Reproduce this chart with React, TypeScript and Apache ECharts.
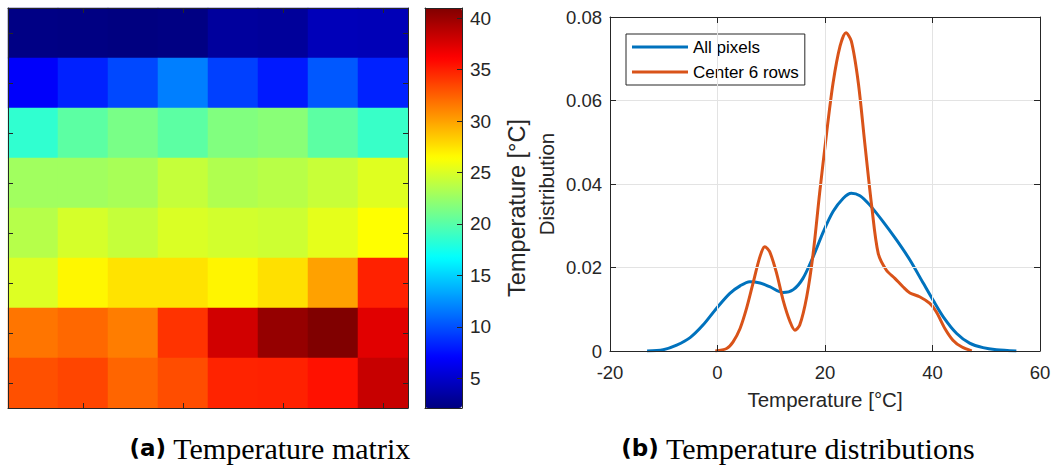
import React, { useEffect, useRef } from "react";
import * as echarts from "echarts";

// ---------- data ----------
const columnLabels = ["1", "2", "3", "4", "5", "6", "7", "8"];
const rowLabels = ["1", "2", "3", "4", "5", "6", "7", "8"];

// temperature matrix, top row first (°C)
const row1 = [2.3, 2.2, 2.1, 2.2, 3.2, 3.1, 4.3, 4.2];
const row2 = [6.8, 8.2, 9.7, 11.8, 9.4, 7.9, 10.3, 8.2];
const row3 = [18.5, 20.2, 21.3, 20.2, 21.6, 21.9, 20.2, 18.8];
const row4 = [22.8, 22.8, 23.1, 24.2, 23.4, 23.7, 24.3, 25.2];
const row5 = [23.6, 24.8, 24.2, 25.0, 24.7, 24.5, 25.4, 26.4];
const row6 = [25.1, 26.7, 27.5, 27.5, 26.8, 27.6, 30.0, 34.9];
const row7 = [31.7, 32.2, 31.4, 34.2, 37.9, 40.2, 41.0, 37.3];
const row8 = [33.1, 33.5, 32.3, 33.2, 34.8, 34.9, 35.5, 38.3];
const temperatureMatrix = [row1, row2, row3, row4, row5, row6, row7, row8];

const colorbarMin = 2.1;
const colorbarMax = 41.0;

// kernel density curves
const allPixelsX = [-13.1, -10.1, -7.6, -5.1, -2.7, -0.2, 2.3, 4.2, 6.0, 7.9, 9.7, 12.2, 14.1, 15.9, 17.8, 19.7, 21.5, 23.4, 24.9, 26.5, 28.3, 30.8, 33.3, 35.8, 38.3, 40.1, 42.0, 44.5, 46.9, 49.4, 51.9, 55.6];
const allPixelsY = [0, 0.0003, 0.0014, 0.0032, 0.0062, 0.0102, 0.0138, 0.0156, 0.0166, 0.0163, 0.0154, 0.014, 0.0147, 0.0174, 0.0226, 0.0286, 0.0334, 0.0366, 0.0378, 0.0372, 0.035, 0.031, 0.0266, 0.0218, 0.0162, 0.0122, 0.0082, 0.0042, 0.0019, 0.0008, 0.0003, 0];

const center6X = [-0.4, 1.7, 2.9, 4.2, 5.4, 6.6, 7.9, 8.8, 9.7, 11.0, 12.2, 13.5, 14.4, 15.3, 16.6, 17.8, 19.0, 20.3, 21.5, 22.8, 23.9, 24.9, 26.2, 27.4, 28.7, 29.9, 31.4, 33.0, 34.5, 35.8, 37.6, 39.5, 40.7, 42.3, 43.8, 45.4, 47.3];
const center6Y = [0, 0.0006, 0.0022, 0.0054, 0.0102, 0.0162, 0.0226, 0.025, 0.0238, 0.0186, 0.0122, 0.007, 0.005, 0.0062, 0.013, 0.0234, 0.0378, 0.0522, 0.0642, 0.073, 0.0762, 0.0742, 0.0642, 0.0498, 0.0346, 0.0234, 0.0194, 0.0174, 0.0154, 0.0139, 0.013, 0.0114, 0.0094, 0.0054, 0.0026, 0.001, 0];

const seriesNames = ["All pixels", "Center 6 rows"];

const jetColors = ["#000080", "#0000FF", "#0080FF", "#00FFFF", "#80FF80", "#FFFF00", "#FF8000", "#FF0000", "#800000"];

// ---------- styles ----------
const AXIS = "#262626";
const SANS = "Liberation Sans";

const lineAxis = { show: true, onZero: false, lineStyle: { color: AXIS, width: 1 } };

export default function App() {
  const ref = useRef<HTMLDivElement>(null);

  useEffect(() => {
    if (!ref.current) return;
    const chart = echarts.init(ref.current, null, { renderer: "svg" });

    const heatData: number[][] = [];
    temperatureMatrix.forEach((row, r) =>
      row.forEach((v, c) => heatData.push([c, r, v]))
    );

    const heatX = (position: string) => ({
      type: "category",
      gridIndex: 0,
      data: columnLabels,
      position,
      z: 10,
      axisLine: lineAxis,
      axisTick: {
        show: true,
        inside: true,
        alignWithLabel: true,
        length: 5,
        interval: (i: number) => i % 2 === 1,
        lineStyle: { color: AXIS },
      },
      axisLabel: { show: false },
      splitLine: { show: false },
    });
    const heatY = (position: string) => ({
      type: "category",
      gridIndex: 0,
      data: rowLabels,
      inverse: true,
      position,
      z: 10,
      axisLine: lineAxis,
      axisTick: {
        show: true,
        inside: true,
        alignWithLabel: true,
        length: 5,
        interval: 0,
        lineStyle: { color: AXIS },
      },
      axisLabel: { show: false },
      splitLine: { show: false },
    });
    const cbFrame = (position: string) => ({
      type: "value",
      gridIndex: 1,
      min: 0,
      max: 1,
      position,
      z: 10,
      axisLine: lineAxis,
      axisTick: { show: false },
      axisLabel: { show: false },
      splitLine: { show: false },
    });

    const captionRich = {
      b: { fontFamily: "DejaVu Sans", fontWeight: "bold", fontSize: 23, fill: "#000", color: "#000" },
      s: { fontFamily: "Liberation Serif", fontSize: 30, fill: "#000", color: "#000" },
    };

    const option: any = {
      animation: false,
      backgroundColor: "#ffffff",
      grid: [
        { left: 8, top: 8, width: 400, height: 400 },
        { left: 425, top: 8, width: 37, height: 400 },
        { left: 610, top: 17, width: 430, height: 334 },
      ],
      xAxis: [
        heatX("bottom"),
        heatX("top"),
        cbFrame("bottom"),
        cbFrame("top"),
        {
          type: "value",
          gridIndex: 2,
          min: -20,
          max: 60,
          interval: 20,
          position: "bottom",
          z: 10,
          axisLine: lineAxis,
          axisTick: { show: true, inside: true, length: 6, lineStyle: { color: AXIS } },
          axisLabel: { fontSize: 18.5, color: AXIS, fontFamily: SANS, margin: 12 },
          splitLine: { show: true, lineStyle: { color: "#E3E3E3", width: 1 } },
          name: "Temperature [°C]",
          nameLocation: "middle",
          nameGap: 38,
          nameTextStyle: { fontSize: 20.5, color: AXIS, fontFamily: SANS },
        },
        {
          type: "value",
          gridIndex: 2,
          min: -20,
          max: 60,
          interval: 20,
          position: "top",
          z: 10,
          axisLine: lineAxis,
          axisTick: { show: true, inside: true, length: 6, lineStyle: { color: AXIS } },
          axisLabel: { show: false },
          splitLine: { show: false },
        },
      ],
      yAxis: [
        heatY("left"),
        heatY("right"),
        cbFrame("left"),
        {
          type: "value",
          gridIndex: 1,
          min: colorbarMin,
          max: colorbarMax,
          splitNumber: 8,
          position: "right",
          z: 10,
          axisLine: lineAxis,
          axisTick: { show: true, inside: true, length: 5, lineStyle: { color: AXIS } },
          axisLabel: {
            fontSize: 19,
            color: AXIS,
            fontFamily: SANS,
            margin: 8,
            showMinLabel: false,
            showMaxLabel: false,
          },
          splitLine: { show: false },
          name: "Temperature [°C]",
          nameLocation: "middle",
          nameRotate: 90,
          nameGap: 43,
          nameTextStyle: { fontSize: 23.5, color: AXIS, fontFamily: SANS },
        },
        {
          type: "value",
          gridIndex: 2,
          min: 0,
          max: 0.08,
          interval: 0.02,
          position: "left",
          z: 10,
          axisLine: lineAxis,
          axisTick: { show: true, inside: true, length: 6, lineStyle: { color: AXIS } },
          axisLabel: { fontSize: 18.5, color: AXIS, fontFamily: SANS, margin: 8 },
          splitLine: { show: true, lineStyle: { color: "#E3E3E3", width: 1 } },
          name: "Distribution",
          nameLocation: "middle",
          nameRotate: 90,
          nameGap: 53,
          nameTextStyle: { fontSize: 20.5, color: AXIS, fontFamily: SANS },
        },
        {
          type: "value",
          gridIndex: 2,
          min: 0,
          max: 0.08,
          interval: 0.02,
          position: "right",
          z: 10,
          axisLine: lineAxis,
          axisTick: { show: true, inside: true, length: 6, lineStyle: { color: AXIS } },
          axisLabel: { show: false },
          splitLine: { show: false },
        },
      ],
      visualMap: {
        type: "continuous",
        seriesIndex: 0,
        dimension: 2,
        min: colorbarMin,
        max: colorbarMax,
        orient: "vertical",
        left: 425,
        top: 8,
        padding: 0,
        itemWidth: 37,
        itemHeight: 400,
        calculable: false,
        hoverLink: false,
        z: 2,
        inRange: { color: jetColors },
      },
      legend: {
        data: seriesNames.map((name) => ({ name, icon: "rect" })),
        orient: "vertical",
        left: 626,
        top: 34,
        padding: [4, 6, 4, 6],
        itemWidth: 56,
        itemHeight: 3,
        itemGap: 7,
        borderColor: AXIS,
        borderWidth: 1,
        borderRadius: 0,
        backgroundColor: "#ffffff",
        textStyle: { fontSize: 17, color: "#000000", fontFamily: SANS, lineHeight: 18 },
      },
      graphic: [
        {
          type: "text",
          x: 270,
          y: 448,
          style: {
            text: "{b|(a)}{s| Temperature matrix}",
            align: "center",
            verticalAlign: "middle",
            rich: captionRich,
          },
        },
        {
          type: "text",
          x: 798,
          y: 448,
          style: {
            text: "{b|(b)}{s| Temperature distributions}",
            align: "center",
            verticalAlign: "middle",
            rich: captionRich,
          },
        },
      ],
      series: [
        {
          type: "heatmap",
          xAxisIndex: 0,
          yAxisIndex: 0,
          data: heatData,
          itemStyle: { borderWidth: 0 },
          emphasis: { disabled: true },
        },
        {
          type: "line",
          name: seriesNames[0],
          xAxisIndex: 4,
          yAxisIndex: 4,
          data: allPixelsX.map((x, i) => [x, allPixelsY[i]]),
          smooth: 0.3,
          symbol: "none",
          lineStyle: { color: "#0072BD", width: 3 },
          itemStyle: { color: "#0072BD" },
          z: 3,
        },
        {
          type: "line",
          name: seriesNames[1],
          xAxisIndex: 4,
          yAxisIndex: 4,
          data: center6X.map((x, i) => [x, center6Y[i]]),
          smooth: 0.3,
          symbol: "none",
          lineStyle: { color: "#D95319", width: 3 },
          itemStyle: { color: "#D95319" },
          z: 4,
        },
      ],
    };

    chart.setOption(option);
    return () => chart.dispose();
  }, []);

  return (
    <div
      ref={ref}
      style={{ position: "absolute", left: 0, top: 0, width: 1060, height: 465, background: "#ffffff" }}
    />
  );
}
